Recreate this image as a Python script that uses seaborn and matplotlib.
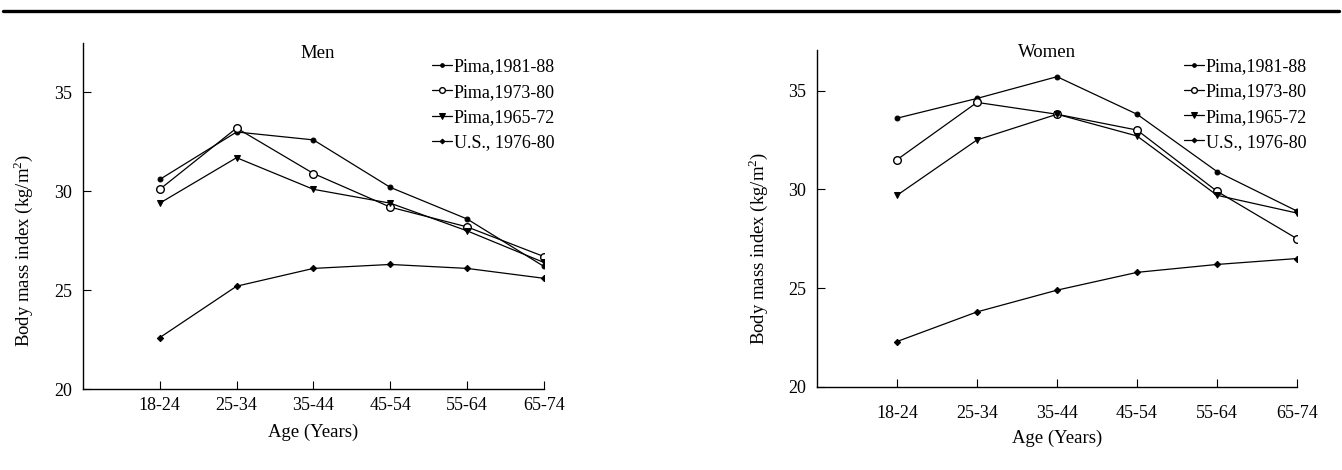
import matplotlib
matplotlib.use("Agg")
import matplotlib.pyplot as plt
import seaborn as sns
import pandas as pd
from matplotlib.lines import Line2D

ages = ["18-24", "25-34", "35-44", "45-54", "55-64", "65-74"]
series_names = ["Pima,1981-88", "Pima,1973-80", "Pima,1965-72", "U.S., 1976-80"]

men_pima_1981_88 = [30.6, 33.0, 32.6, 30.2, 28.6, 26.2]
men_pima_1973_80 = [30.1, 33.2, 30.9, 29.2, 28.2, 26.7]
men_pima_1965_72 = [29.4, 31.7, 30.1, 29.4, 28.0, 26.4]
men_us_1976_80 = [22.6, 25.2, 26.1, 26.3, 26.1, 25.6]

women_pima_1981_88 = [33.6, 34.6, 35.7, 33.8, 30.9, 28.9]
women_pima_1973_80 = [31.5, 34.4, 33.8, 33.0, 29.9, 27.5]
women_pima_1965_72 = [29.7, 32.5, 33.8, 32.7, 29.7, 28.8]
women_us_1976_80 = [22.3, 23.8, 24.9, 25.8, 26.2, 26.5]

y_ticks = [20, 25, 30, 35]

sns.set_style("ticks")
plt.rcParams["font.family"] = ["Liberation Serif"]
plt.rcParams["font.size"] = 13
plt.rcParams["text.color"] = "black"
plt.rcParams["axes.labelcolor"] = "black"
plt.rcParams["xtick.color"] = "black"
plt.rcParams["ytick.color"] = "black"
plt.rcParams["mathtext.fontset"] = "custom"
plt.rcParams["mathtext.rm"] = "Liberation Serif"

styles = {
    "Pima,1981-88": dict(marker="o", markersize=3.5, markerfacecolor="black"),
    "Pima,1973-80": dict(marker="o", markersize=5.5, markerfacecolor="white", markeredgewidth=1.0),
    "Pima,1965-72": dict(marker="v", markersize=5.0, markerfacecolor="black"),
    "U.S., 1976-80": dict(marker="D", markersize=3.2, markerfacecolor="black"),
}


def build_df(vals):
    rows = []
    for name, v in zip(series_names, vals):
        for i, a in enumerate(ages):
            rows.append({"age": i, "bmi": v[i], "series": name})
    return pd.DataFrame(rows)


men_df = build_df([men_pima_1981_88, men_pima_1973_80, men_pima_1965_72, men_us_1976_80])
women_df = build_df([women_pima_1981_88, women_pima_1973_80, women_pima_1965_72, women_us_1976_80])

fig = plt.figure(figsize=(13.42, 4.70), dpi=100)
ax1 = fig.add_axes([0.0618, 0.1723, 0.3435, 0.7362])
ax2 = fig.add_axes([0.6088, 0.1766, 0.3577, 0.7170])


def draw(ax, df, title, ytop, title_y, title_x, leg_anchor, xpad, xlabelpad):
    for name in series_names:
        sub = df[df["series"] == name]
        sns.lineplot(data=sub, x="age", y="bmi", ax=ax, color="black", linewidth=0.9,
                     markeredgecolor="black", label=name, **styles[name])
    ax.set_xlim(-1, 5)
    ax.set_ylim(20, ytop)
    ax.set_xticks(range(len(ages)))
    ax.set_xticklabels(ages)
    ax.set_yticks(y_ticks)
    ax.tick_params(direction="in", length=6, width=0.8, colors="black", labelsize=13)
    ax.tick_params(axis="y", pad=8)
    ax.tick_params(axis="x", pad=xpad)
    for s in ["top", "right"]:
        ax.spines[s].set_visible(False)
    for s in ["left", "bottom"]:
        ax.spines[s].set_linewidth(1.0)
        ax.spines[s].set_color("black")
    ax.set_xlabel("Age (Years)", fontsize=13.5, labelpad=xlabelpad)
    ax.set_ylabel("Body mass index (kg/m$^2$)", fontsize=13.5)
    ax.text(title_x, title_y, title, transform=ax.transAxes, ha="center", va="center", fontsize=13.5)
    ax.legend(loc="upper left", bbox_to_anchor=leg_anchor, frameon=False,
              handlelength=1.1, handletextpad=0.1, labelspacing=0.45,
              borderpad=0, borderaxespad=0, fontsize=13, markerscale=0.75)


draw(ax1, men_df, "Men", 37.5, 0.971, 0.51, (0.757, 0.955), 6, 6.5)
draw(ax2, women_df, "Women", 37.05, 0.994, 0.48, (0.765, 0.975), 13.3, 5.5)
ax1.yaxis.set_label_coords(-0.103, 0.40)
ax2.yaxis.set_label_coords(-0.098, 0.41)

fig.add_artist(Line2D([0.002, 0.998], [0.977, 0.977], transform=fig.transFigure,
                      color="black", linewidth=2.4))

fig.savefig("out.png", dpi=100, facecolor="white")
